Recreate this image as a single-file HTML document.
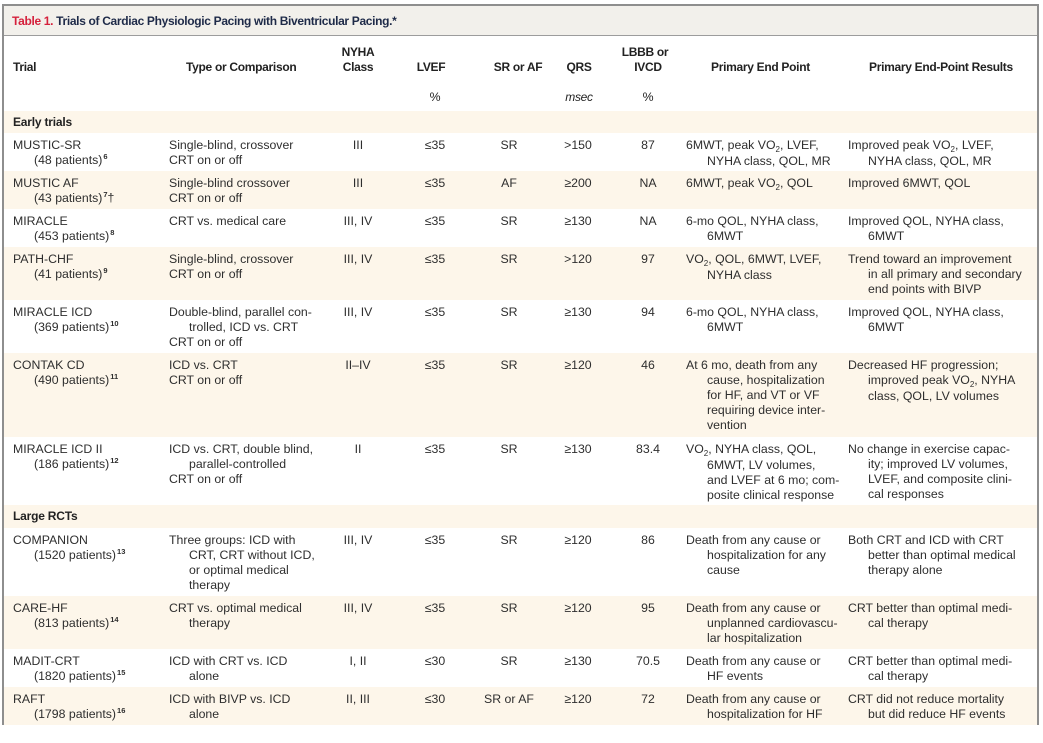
<!DOCTYPE html>
<html><head><meta charset="utf-8">
<style>
*{margin:0;padding:0;box-sizing:border-box}
html,body{width:1043px;height:743px;background:#fff;overflow:hidden}
body{position:relative;font-family:"Liberation Sans",Arial,sans-serif;color:#2e2e2e}
#frame{position:absolute;left:2px;top:4px;width:1037px;height:721px;border-left:2px solid #8e8e8e;border-right:2px solid #8e8e8e;border-top:2px solid #8e8e8e}
#title{position:absolute;left:4px;top:6px;width:1033px;height:30px;background:#f2f0eb;border-bottom:1px solid #9c9c9c}
#title .t{position:absolute;left:8px;top:8px;font-weight:bold;font-size:12px;letter-spacing:-0.33px;color:#1e2a48;line-height:15px;white-space:nowrap}
#title .t span{color:#d5213c}
.h{position:absolute;font-weight:bold;font-size:12px;letter-spacing:-0.3px;color:#222;line-height:15px;white-space:nowrap}
.hc{text-align:center;width:100px}
.row{position:absolute;left:4px;width:1033px}
.cr{background:#fdf6ea}
.c{position:absolute;top:5px;font-size:12.3px;line-height:15.1px;white-space:nowrap}
.i{padding-left:21px}
.m{width:90px;text-align:center}
.sec{position:absolute;left:9px;font-weight:bold;font-size:12px;letter-spacing:-0.2px;color:#222;line-height:15px}
sup{font-size:7.5px;vertical-align:0;position:relative;top:-5px;font-weight:bold;margin-left:1px}
sub{font-size:8px;vertical-align:0;position:relative;top:3px}
</style></head><body>
<div id="frame"></div>
<div id="title"><div class="t"><span>Table 1.</span> Trials of Cardiac Physiologic Pacing with Biventricular Pacing.*</div></div>

<div class="h" style="left:13px;top:60px">Trial</div>
<div class="h" style="left:186px;top:60px">Type or Comparison</div>
<div class="h hc" style="left:308px;top:45px">NYHA</div>
<div class="h hc" style="left:308px;top:60px">Class</div>
<div class="h hc" style="left:381px;top:60px">LVEF</div>
<div class="h hc" style="left:468px;top:60px">SR or AF</div>
<div class="h hc" style="left:529px;top:60px">QRS</div>
<div class="h hc" style="left:595px;top:45px">LBBB or</div>
<div class="h hc" style="left:598px;top:60px">IVCD</div>
<div class="h" style="left:711px;top:60px">Primary End Point</div>
<div class="h" style="left:869px;top:60px">Primary End-Point Results</div>
<div class="h hc" style="left:385px;top:90px;font-weight:normal;font-size:12.3px">%</div>
<div class="h hc" style="left:529px;top:90px;font-weight:normal;font-style:italic;font-size:12px">msec</div>
<div class="h hc" style="left:598px;top:90px;font-weight:normal;font-size:12.3px">%</div>

<div class="row cr" style="top:111px;height:22px"><div class="sec" style="top:4px">Early trials</div></div>

<!-- MUSTIC-SR -->
<div class="row" style="top:133px;height:38px">
<div class="c" style="left:9px">MUSTIC-SR<div class="i">(48 patients)<sup>6</sup></div></div>
<div class="c" style="left:165px">Single-blind, crossover<div>CRT on or off</div></div>
<div class="c m" style="left:309px">III</div>
<div class="c m" style="left:386px">≤35</div>
<div class="c m" style="left:460px">SR</div>
<div class="c m" style="left:529px">&gt;150</div>
<div class="c m" style="left:599px">87</div>
<div class="c" style="left:682px">6MWT, peak VO<sub>2</sub>, LVEF,<div class="i">NYHA class, QOL, MR</div></div>
<div class="c" style="left:844px">Improved peak VO<sub>2</sub>, LVEF,<div class="i" style="padding-left:20px">NYHA class, QOL, MR</div></div>
</div>

<!-- MUSTIC AF -->
<div class="row cr" style="top:171px;height:38px">
<div class="c" style="left:9px">MUSTIC AF<div class="i">(43 patients)<sup>7</sup>†</div></div>
<div class="c" style="left:165px">Single-blind crossover<div>CRT on or off</div></div>
<div class="c m" style="left:309px">III</div>
<div class="c m" style="left:386px">≤35</div>
<div class="c m" style="left:460px">AF</div>
<div class="c m" style="left:529px">≥200</div>
<div class="c m" style="left:599px">NA</div>
<div class="c" style="left:682px">6MWT, peak VO<sub>2</sub>, QOL</div>
<div class="c" style="left:844px">Improved 6MWT, QOL</div>
</div>

<!-- MIRACLE -->
<div class="row" style="top:209px;height:38px">
<div class="c" style="left:9px">MIRACLE<div class="i">(453 patients)<sup>8</sup></div></div>
<div class="c" style="left:165px">CRT vs. medical care</div>
<div class="c m" style="left:309px">III, IV</div>
<div class="c m" style="left:386px">≤35</div>
<div class="c m" style="left:460px">SR</div>
<div class="c m" style="left:529px">≥130</div>
<div class="c m" style="left:599px">NA</div>
<div class="c" style="left:682px">6-mo QOL, NYHA class,<div class="i">6MWT</div></div>
<div class="c" style="left:844px">Improved QOL, NYHA class,<div class="i" style="padding-left:20px">6MWT</div></div>
</div>

<!-- PATH-CHF -->
<div class="row cr" style="top:247px;height:53px">
<div class="c" style="left:9px">PATH-CHF<div class="i">(41 patients)<sup>9</sup></div></div>
<div class="c" style="left:165px">Single-blind, crossover<div>CRT on or off</div></div>
<div class="c m" style="left:309px">III, IV</div>
<div class="c m" style="left:386px">≤35</div>
<div class="c m" style="left:460px">SR</div>
<div class="c m" style="left:529px">&gt;120</div>
<div class="c m" style="left:599px">97</div>
<div class="c" style="left:682px">VO<sub>2</sub>, QOL, 6MWT, LVEF,<div class="i">NYHA class</div></div>
<div class="c" style="left:844px">Trend toward an improvement<div class="i" style="padding-left:20px">in all primary and secondary</div><div class="i" style="padding-left:20px">end points with BIVP</div></div>
</div>

<!-- MIRACLE ICD -->
<div class="row" style="top:300px;height:53px">
<div class="c" style="left:9px">MIRACLE ICD<div class="i">(369 patients)<sup>10</sup></div></div>
<div class="c" style="left:165px">Double-blind, parallel con-<div class="i" style="padding-left:20px">trolled, ICD vs. CRT</div><div>CRT on or off</div></div>
<div class="c m" style="left:309px">III, IV</div>
<div class="c m" style="left:386px">≤35</div>
<div class="c m" style="left:460px">SR</div>
<div class="c m" style="left:529px">≥130</div>
<div class="c m" style="left:599px">94</div>
<div class="c" style="left:682px">6-mo QOL, NYHA class,<div class="i">6MWT</div></div>
<div class="c" style="left:844px">Improved QOL, NYHA class,<div class="i" style="padding-left:20px">6MWT</div></div>
</div>

<!-- CONTAK CD -->
<div class="row cr" style="top:353px;height:84px">
<div class="c" style="left:9px">CONTAK CD<div class="i">(490 patients)<sup>11</sup></div></div>
<div class="c" style="left:165px">ICD vs. CRT<div>CRT on or off</div></div>
<div class="c m" style="left:309px">II–IV</div>
<div class="c m" style="left:386px">≤35</div>
<div class="c m" style="left:460px">SR</div>
<div class="c m" style="left:529px">≥120</div>
<div class="c m" style="left:599px">46</div>
<div class="c" style="left:682px">At 6 mo, death from any<div class="i">cause, hospitalization</div><div class="i">for HF, and VT or VF</div><div class="i">requiring device inter-</div><div class="i">vention</div></div>
<div class="c" style="left:844px">Decreased HF progression;<div class="i" style="padding-left:20px">improved peak VO<sub>2</sub>, NYHA</div><div class="i" style="padding-left:20px">class, QOL, LV volumes</div></div>
</div>

<!-- MIRACLE ICD II -->
<div class="row" style="top:437px;height:68px">
<div class="c" style="left:9px">MIRACLE ICD II<div class="i">(186 patients)<sup>12</sup></div></div>
<div class="c" style="left:165px">ICD vs. CRT, double blind,<div class="i" style="padding-left:20px">parallel-controlled</div><div>CRT on or off</div></div>
<div class="c m" style="left:309px">II</div>
<div class="c m" style="left:386px">≤35</div>
<div class="c m" style="left:460px">SR</div>
<div class="c m" style="left:529px">≥130</div>
<div class="c m" style="left:599px">83.4</div>
<div class="c" style="left:682px">VO<sub>2</sub>, NYHA class, QOL,<div class="i">6MWT, LV volumes,</div><div class="i">and LVEF at 6 mo; com-</div><div class="i">posite clinical response</div></div>
<div class="c" style="left:844px">No change in exercise capac-<div class="i" style="padding-left:20px">ity; improved LV volumes,</div><div class="i" style="padding-left:20px">LVEF, and composite clini-</div><div class="i" style="padding-left:20px">cal responses</div></div>
</div>

<div class="row cr" style="top:505px;height:23px"><div class="sec" style="top:4px">Large RCTs</div></div>

<!-- COMPANION -->
<div class="row" style="top:528px;height:68px">
<div class="c" style="left:9px">COMPANION<div class="i">(1520 patients)<sup>13</sup></div></div>
<div class="c" style="left:165px">Three groups: ICD with<div class="i" style="padding-left:20px">CRT, CRT without ICD,</div><div class="i" style="padding-left:20px">or optimal medical</div><div class="i" style="padding-left:20px">therapy</div></div>
<div class="c m" style="left:309px">III, IV</div>
<div class="c m" style="left:386px">≤35</div>
<div class="c m" style="left:460px">SR</div>
<div class="c m" style="left:529px">≥120</div>
<div class="c m" style="left:599px">86</div>
<div class="c" style="left:682px">Death from any cause or<div class="i">hospitalization for any</div><div class="i">cause</div></div>
<div class="c" style="left:844px">Both CRT and ICD with CRT<div class="i" style="padding-left:20px">better than optimal medical</div><div class="i" style="padding-left:20px">therapy alone</div></div>
</div>

<!-- CARE-HF -->
<div class="row cr" style="top:596px;height:53px">
<div class="c" style="left:9px">CARE-HF<div class="i">(813 patients)<sup>14</sup></div></div>
<div class="c" style="left:165px">CRT vs. optimal medical<div class="i" style="padding-left:20px">therapy</div></div>
<div class="c m" style="left:309px">III, IV</div>
<div class="c m" style="left:386px">≤35</div>
<div class="c m" style="left:460px">SR</div>
<div class="c m" style="left:529px">≥120</div>
<div class="c m" style="left:599px">95</div>
<div class="c" style="left:682px">Death from any cause or<div class="i">unplanned cardiovascu-</div><div class="i">lar hospitalization</div></div>
<div class="c" style="left:844px">CRT better than optimal medi-<div class="i" style="padding-left:20px">cal therapy</div></div>
</div>

<!-- MADIT-CRT -->
<div class="row" style="top:649px;height:38px">
<div class="c" style="left:9px">MADIT-CRT<div class="i">(1820 patients)<sup>15</sup></div></div>
<div class="c" style="left:165px">ICD with CRT vs. ICD<div class="i" style="padding-left:20px">alone</div></div>
<div class="c m" style="left:309px">I, II</div>
<div class="c m" style="left:386px">≤30</div>
<div class="c m" style="left:460px">SR</div>
<div class="c m" style="left:529px">≥130</div>
<div class="c m" style="left:599px">70.5</div>
<div class="c" style="left:682px">Death from any cause or<div class="i">HF events</div></div>
<div class="c" style="left:844px">CRT better than optimal medi-<div class="i" style="padding-left:20px">cal therapy</div></div>
</div>

<!-- RAFT -->
<div class="row cr" style="top:687px;height:38px">
<div class="c" style="left:9px">RAFT<div class="i">(1798 patients)<sup>16</sup></div></div>
<div class="c" style="left:165px">ICD with BIVP vs. ICD<div class="i" style="padding-left:20px">alone</div></div>
<div class="c m" style="left:309px">II, III</div>
<div class="c m" style="left:386px">≤30</div>
<div class="c m" style="left:460px">SR or AF</div>
<div class="c m" style="left:529px">≥120</div>
<div class="c m" style="left:599px">72</div>
<div class="c" style="left:682px">Death from any cause or<div class="i">hospitalization for HF</div></div>
<div class="c" style="left:844px">CRT did not reduce mortality<div class="i" style="padding-left:20px">but did reduce HF events</div></div>
</div>
</body></html>
